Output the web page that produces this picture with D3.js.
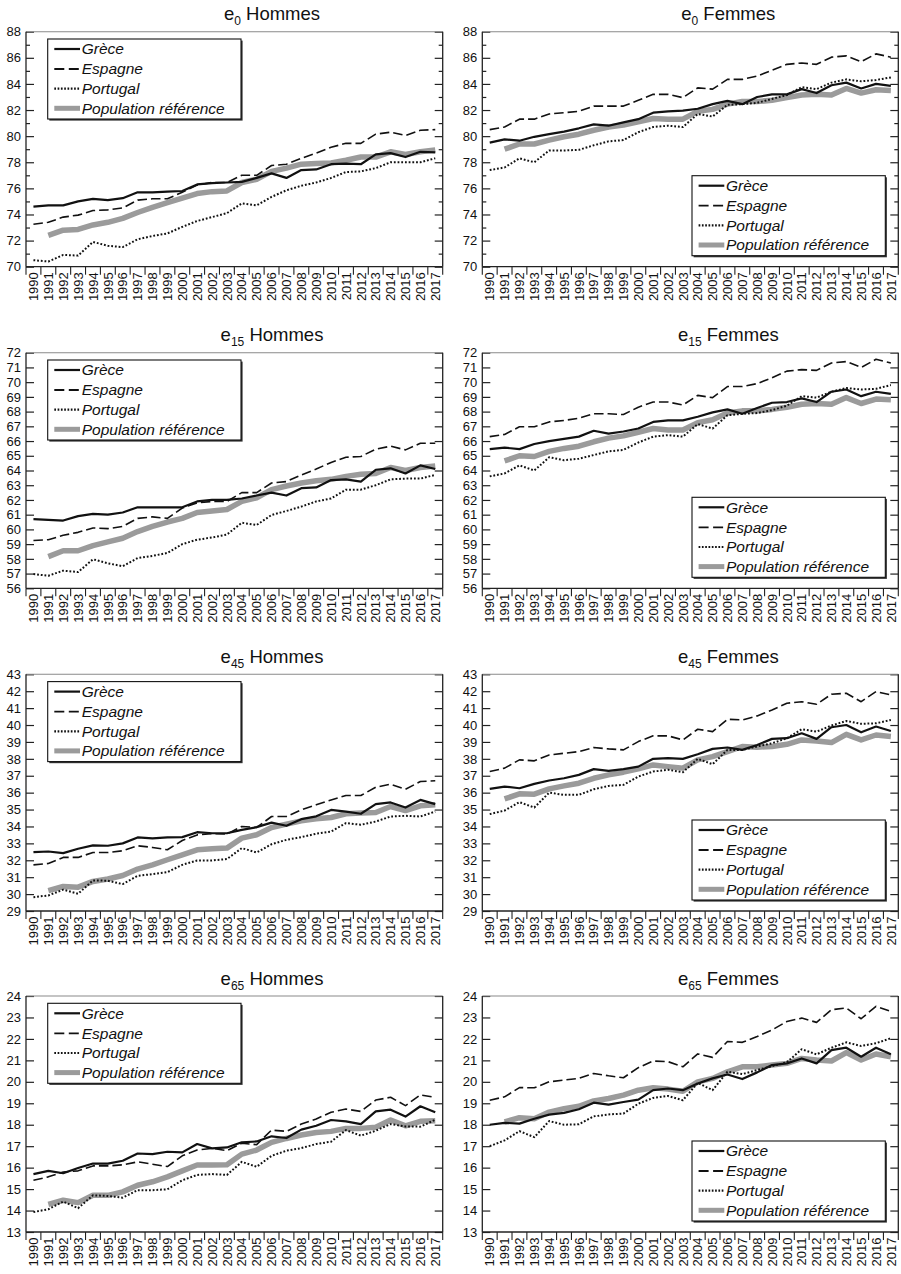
<!DOCTYPE html>
<html><head><meta charset="utf-8">
<script src="https://cdn.jsdelivr.net/npm/d3@7"></script>
<style>body{margin:0;background:#fff}svg{display:block}</style>
</head><body>
<svg id="c" width="901" height="1274"></svg>
<script>
// ---------- categories ----------
const years = ["1990","1991","1992","1993","1994","1995","1996","1997","1998","1999","2000","2001","2002","2003","2004","2005","2006","2007","2008","2009","2010","2011","2012","2013","2014","2015","2016","2017"];
const seriesNames = ["Grèce","Espagne","Portugal","Population référence"];

// ---------- tick labels ----------
const yTicks_e0  = [70,72,74,76,78,80,82,84,86,88];
const yMinor_e0  = [70,71,72,73,74,75,76,77,78,79,80,81,82,83,84,85,86,87,88];
const yTicks_e15 = [56,57,58,59,60,61,62,63,64,65,66,67,68,69,70,71,72];
const yTicks_e45 = [29,30,31,32,33,34,35,36,37,38,39,40,41,42,43];
const yTicks_e65 = [13,14,15,16,17,18,19,20,21,22,23,24];

// ---------- e0 Hommes ----------
const e0H_grece    = [74.6,74.7,74.7,75.0,75.2,75.1,75.25,75.7,75.7,75.75,75.8,76.3,76.4,76.45,76.5,76.8,77.15,76.8,77.4,77.45,77.85,77.9,77.85,78.6,78.7,78.4,78.8,78.75];
const e0H_espagne  = [73.25,73.4,73.8,73.95,74.3,74.35,74.5,75.1,75.2,75.2,75.7,76.25,76.45,76.45,77.0,77.0,77.75,77.85,78.3,78.7,79.15,79.45,79.45,80.15,80.3,80.05,80.45,80.5];
const e0H_portugal = [70.5,70.4,70.9,70.85,71.9,71.6,71.5,72.1,72.35,72.55,73.05,73.5,73.8,74.1,74.85,74.7,75.35,75.85,76.2,76.45,76.8,77.25,77.3,77.55,78.0,78.0,78.0,78.3];
const e0H_ref      = [null,72.4,72.8,72.85,73.2,73.4,73.7,74.15,74.55,74.9,75.25,75.6,75.75,75.8,76.45,76.7,77.3,77.55,77.85,77.9,77.95,78.15,78.4,78.4,78.8,78.6,78.8,78.95];

// ---------- e0 Femmes ----------
const e0F_grece    = [79.5,79.75,79.65,79.95,80.15,80.35,80.6,80.9,80.8,81.05,81.3,81.8,81.9,81.95,82.1,82.45,82.7,82.45,83.0,83.2,83.2,83.6,83.3,83.9,84.1,83.65,84.0,83.85];
const e0F_espagne  = [80.5,80.7,81.3,81.3,81.7,81.8,81.9,82.3,82.3,82.3,82.75,83.2,83.2,82.95,83.7,83.6,84.35,84.35,84.6,85.05,85.5,85.6,85.5,86.05,86.15,85.7,86.3,86.05];
const e0F_portugal = [77.4,77.6,78.3,78.0,78.9,78.9,78.95,79.3,79.6,79.7,80.3,80.7,80.8,80.7,81.7,81.5,82.4,82.45,82.55,82.85,83.15,83.75,83.6,84.1,84.35,84.2,84.3,84.5];
const e0F_ref      = [null,79.0,79.4,79.4,79.7,79.95,80.15,80.45,80.7,80.85,81.1,81.35,81.3,81.3,81.9,82.05,82.45,82.65,82.65,82.75,82.95,83.15,83.2,83.15,83.65,83.3,83.55,83.5];

// ---------- e15 Hommes ----------
const e15H_grece    = [60.7,60.65,60.6,60.9,61.05,61.0,61.15,61.5,61.5,61.5,61.5,61.9,62.0,62.0,62.1,62.3,62.5,62.3,62.8,62.85,63.35,63.4,63.25,64.05,64.15,63.8,64.35,64.1];
const e15H_espagne  = [59.25,59.3,59.6,59.8,60.1,60.05,60.2,60.75,60.85,60.75,61.45,61.8,61.9,61.9,62.5,62.5,63.15,63.25,63.7,64.1,64.55,64.9,64.95,65.45,65.65,65.4,65.85,65.85];
const e15H_portugal = [56.97,56.85,57.2,57.1,57.97,57.7,57.5,58.05,58.2,58.4,59.0,59.3,59.45,59.65,60.45,60.3,60.98,61.25,61.55,61.9,62.1,62.7,62.7,63.0,63.4,63.45,63.45,63.7];
const e15H_ref      = [null,58.15,58.55,58.55,58.9,59.15,59.4,59.85,60.2,60.5,60.75,61.15,61.25,61.35,61.9,62.15,62.7,62.95,63.15,63.3,63.4,63.6,63.75,63.8,64.2,64.0,64.2,64.3];

// ---------- e15 Femmes ----------
const e15F_grece    = [65.45,65.55,65.45,65.8,66.0,66.15,66.3,66.7,66.5,66.65,66.85,67.3,67.4,67.4,67.65,67.95,68.15,67.85,68.25,68.6,68.65,68.9,68.65,69.35,69.5,69.05,69.35,69.2];
const e15F_espagne  = [66.3,66.45,66.97,66.97,67.3,67.4,67.55,67.85,67.85,67.8,68.3,68.65,68.65,68.45,69.1,68.95,69.7,69.7,69.9,70.3,70.75,70.85,70.8,71.3,71.4,71.0,71.55,71.3];
const e15F_portugal = [63.6,63.8,64.35,64.0,64.9,64.7,64.8,65.05,65.3,65.4,65.9,66.3,66.4,66.3,67.15,66.85,67.75,67.85,67.9,68.1,68.4,69.05,68.95,69.35,69.6,69.5,69.55,69.8];
const e15F_ref      = [null,64.65,65.0,64.95,65.3,65.5,65.65,65.95,66.2,66.35,66.6,66.85,66.75,66.75,67.25,67.45,67.9,68.05,68.05,68.15,68.3,68.5,68.55,68.5,68.95,68.55,68.85,68.8];

// ---------- e45 Hommes ----------
const e45H_grece    = [32.48,32.52,32.42,32.68,32.88,32.86,33.0,33.35,33.3,33.35,33.37,33.66,33.6,33.6,33.8,33.96,34.23,34.04,34.43,34.6,34.98,34.88,34.75,35.32,35.42,35.12,35.57,35.32];
const e45H_espagne  = [31.73,31.81,32.17,32.17,32.46,32.46,32.56,32.86,32.76,32.62,33.17,33.5,33.57,33.55,34.0,33.94,34.59,34.59,34.98,35.28,35.57,35.83,35.83,36.32,36.5,36.2,36.66,36.7];
const e45H_portugal = [29.82,29.92,30.26,30.02,30.81,30.79,30.59,31.08,31.18,31.3,31.73,31.99,31.99,32.07,32.72,32.46,32.95,33.21,33.37,33.57,33.7,34.2,34.1,34.29,34.59,34.63,34.59,34.88];
const e45H_ref      = [null,30.2,30.45,30.41,30.75,30.89,31.1,31.48,31.73,32.03,32.32,32.62,32.68,32.72,33.31,33.51,33.94,34.14,34.33,34.45,34.53,34.75,34.79,34.83,35.18,34.94,35.22,35.28];

// ---------- e45 Femmes ----------
const e45F_grece    = [36.22,36.36,36.26,36.52,36.72,36.85,37.05,37.39,37.29,37.39,37.54,38.0,38.04,38.0,38.27,38.59,38.67,38.53,38.82,39.18,39.22,39.51,39.18,39.87,40.0,39.57,39.91,39.65];
const e45F_espagne  = [37.25,37.45,37.94,37.88,38.23,38.33,38.43,38.67,38.59,38.53,39.02,39.36,39.36,39.12,39.75,39.61,40.34,40.3,40.54,40.89,41.29,41.38,41.23,41.82,41.88,41.38,41.98,41.78];
const e45F_portugal = [34.73,34.94,35.44,35.12,36.0,35.87,35.87,36.2,36.4,36.46,36.95,37.25,37.35,37.21,38.0,37.68,38.53,38.53,38.73,38.92,39.22,39.75,39.61,39.97,40.24,40.07,40.1,40.3];
const e45F_ref      = [null,35.63,35.93,35.91,36.22,36.4,36.56,36.85,37.05,37.21,37.41,37.64,37.54,37.45,37.94,38.13,38.43,38.73,38.69,38.73,38.86,39.12,39.06,38.96,39.45,39.12,39.41,39.32];

// ---------- e65 Hommes ----------
const e65H_grece    = [15.7,15.85,15.74,15.98,16.19,16.19,16.32,16.66,16.63,16.74,16.71,17.1,16.9,16.94,17.18,17.22,17.46,17.38,17.77,17.95,18.22,18.16,18.03,18.62,18.7,18.38,18.86,18.58];
const e65H_espagne  = [15.41,15.57,15.8,15.85,16.08,16.08,16.13,16.27,16.16,16.05,16.55,16.82,16.9,16.79,17.14,17.07,17.75,17.69,18.03,18.27,18.58,18.73,18.62,19.15,19.28,18.89,19.39,19.28];
const e65H_portugal = [13.93,14.06,14.42,14.11,14.71,14.68,14.6,14.95,14.95,14.99,15.41,15.66,15.7,15.66,16.27,16.04,16.55,16.79,16.91,17.1,17.21,17.75,17.49,17.72,18.03,17.92,17.91,18.23];
const e65H_ref      = [null,14.29,14.48,14.37,14.71,14.71,14.87,15.18,15.34,15.57,15.85,16.12,16.12,16.13,16.63,16.82,17.18,17.36,17.52,17.64,17.69,17.83,17.83,17.88,18.22,17.95,18.16,18.19];

// ---------- e65 Femmes ----------
const e65F_grece    = [18.0,18.09,18.05,18.28,18.47,18.55,18.72,19.03,18.94,19.06,19.17,19.61,19.69,19.61,19.92,20.16,20.34,20.13,20.44,20.78,20.86,21.09,20.86,21.48,21.59,21.17,21.59,21.28];
const e65F_espagne  = [19.14,19.3,19.73,19.72,20.0,20.08,20.16,20.39,20.28,20.19,20.66,20.97,20.94,20.7,21.3,21.14,21.88,21.84,22.11,22.42,22.81,22.97,22.77,23.36,23.44,22.94,23.52,23.28];
const e65F_portugal = [17.0,17.27,17.7,17.42,18.17,18.0,18.02,18.39,18.48,18.52,18.98,19.25,19.34,19.14,19.95,19.61,20.47,20.36,20.55,20.73,20.91,21.52,21.28,21.59,21.84,21.67,21.8,22.03];
const e65F_ref      = [null,18.13,18.33,18.28,18.59,18.75,18.86,19.11,19.22,19.38,19.61,19.72,19.66,19.56,20.0,20.16,20.47,20.7,20.7,20.78,20.86,21.09,21.02,20.97,21.36,21.02,21.3,21.17];

// ---------- panel definitions ----------
const panels = [
  {sub:"0",  sex:"Hommes", row:0, col:0, ticks:yTicks_e0,  minor:yMinor_e0,  series:[e0H_grece,e0H_espagne,e0H_portugal,e0H_ref]},
  {sub:"0",  sex:"Femmes", row:0, col:1, ticks:yTicks_e0,  minor:yMinor_e0,  series:[e0F_grece,e0F_espagne,e0F_portugal,e0F_ref]},
  {sub:"15", sex:"Hommes", row:1, col:0, ticks:yTicks_e15, minor:yTicks_e15, series:[e15H_grece,e15H_espagne,e15H_portugal,e15H_ref]},
  {sub:"15", sex:"Femmes", row:1, col:1, ticks:yTicks_e15, minor:yTicks_e15, series:[e15F_grece,e15F_espagne,e15F_portugal,e15F_ref]},
  {sub:"45", sex:"Hommes", row:2, col:0, ticks:yTicks_e45, minor:yTicks_e45, series:[e45H_grece,e45H_espagne,e45H_portugal,e45H_ref]},
  {sub:"45", sex:"Femmes", row:2, col:1, ticks:yTicks_e45, minor:yTicks_e45, series:[e45F_grece,e45F_espagne,e45F_portugal,e45F_ref]},
  {sub:"65", sex:"Hommes", row:3, col:0, ticks:yTicks_e65, minor:yTicks_e65, series:[e65H_grece,e65H_espagne,e65H_portugal,e65H_ref]},
  {sub:"65", sex:"Femmes", row:3, col:1, ticks:yTicks_e65, minor:yTicks_e65, series:[e65F_grece,e65F_espagne,e65F_portugal,e65F_ref]}
];

// ---------- layout & styles ----------
const FONT = "'Liberation Sans', Arial, Helvetica, sans-serif";
const cols = [{l:26, r:442.7}, {l:482.3, r:898.3}];
const rows = [{t:31.7, b:266.7}, {t:352.7, b:588.3}, {t:674.3, b:911}, {t:996, b:1232}];
const styles = [
  {stroke:"#111", width:2.2, dash:null},
  {stroke:"#111", width:1.6, dash:"9.5,4"},
  {stroke:"#111", width:2.0, dash:"1.8,1.9"},
  {stroke:"#9b9b9b", width:5.5, dash:null}
];
const legendDash = [null, "10,4.5", "1.7,1.6", null];

const svg = d3.select("#c").style("font-family", FONT);

panels.forEach(p => {
  const {l, r} = cols[p.col];
  const {t, b} = rows[p.row];
  const dom = [d3.min(p.ticks), d3.max(p.ticks)];
  const x = d3.scaleBand().domain(years).range([l, r]);
  const y = d3.scaleLinear().domain(dom).range([b, t]);
  const g = svg.append("g");

  // --- y axis (left): labels + inward ticks
  const majorSet = new Set(p.ticks);
  const minorOnly = p.minor.filter(v => !majorSet.has(v));
  const yl = g.append("g").attr("transform", `translate(${l},0)`)
    .call(d3.axisLeft(y).tickValues(p.ticks).tickSize(-8).tickPadding(5).tickFormat(d3.format("d")));
  yl.select(".domain").remove();
  yl.selectAll("line").attr("stroke", "#222").attr("stroke-width", 1.2);
  yl.selectAll("text").attr("font-size", 13).attr("font-family", FONT).attr("fill", "#111");
  const ylm = g.append("g").attr("transform", `translate(${l},0)`)
    .call(d3.axisLeft(y).tickValues(minorOnly).tickSize(-4).tickFormat(""));
  ylm.select(".domain").remove();
  ylm.selectAll("line").attr("stroke", "#222").attr("stroke-width", 1.2);

  // --- y axis (right): inward ticks only
  const yr = g.append("g").attr("transform", `translate(${r},0)`)
    .call(d3.axisRight(y).tickValues(p.ticks).tickSize(-8).tickFormat(""));
  yr.select(".domain").remove();
  yr.selectAll("line").attr("stroke", "#222").attr("stroke-width", 1.2);
  const yrm = g.append("g").attr("transform", `translate(${r},0)`)
    .call(d3.axisRight(y).tickValues(minorOnly).tickSize(-4).tickFormat(""));
  yrm.select(".domain").remove();
  yrm.selectAll("line").attr("stroke", "#222").attr("stroke-width", 1.2);

  // --- x axis: rotated year labels at band centres
  const xa = g.append("g").attr("transform", `translate(0,${b})`)
    .call(d3.axisBottom(x).tickSize(0));
  xa.select(".domain").remove();
  xa.selectAll("text")
    .attr("transform", "rotate(-90)")
    .attr("x", -5.5).attr("y", 0).attr("dy", "0.36em")
    .attr("text-anchor", "end")
    .attr("font-size", 13).attr("font-family", FONT).attr("fill", "#111");
  // tick marks on band boundaries
  const bounds = years.map(d => x(d)).concat([x(years[years.length - 1]) + x.bandwidth()]);
  g.append("g").selectAll("line").data(bounds).join("line")
    .attr("x1", d => d).attr("x2", d => d)
    .attr("y1", b).attr("y2", b + 8)
    .attr("stroke", "#222").attr("stroke-width", 1.1);

  // --- series lines (reference first, underneath)
  const order = [3, 2, 1, 0];
  order.forEach(si => {
    const vals = p.series[si];
    const line = d3.line()
      .defined(d => d != null)
      .x((d, i) => x(years[i]) + x.bandwidth() / 2)
      .y(d => y(d));
    const st = styles[si];
    g.append("path").datum(vals)
      .attr("d", line)
      .attr("fill", "none")
      .attr("stroke", st.stroke)
      .attr("stroke-width", st.width)
      .attr("stroke-dasharray", st.dash)
      .attr("stroke-linejoin", "round");
  });

  // --- frame
  g.append("line").attr("x1", l).attr("x2", r).attr("y1", t).attr("y2", t)
    .attr("stroke", "#8a8a8a").attr("stroke-width", 1.1);
  g.append("line").attr("x1", l).attr("x2", l).attr("y1", t).attr("y2", b)
    .attr("stroke", "#222").attr("stroke-width", 1.3);
  g.append("line").attr("x1", r).attr("x2", r).attr("y1", t).attr("y2", b)
    .attr("stroke", "#222").attr("stroke-width", 1.3);
  g.append("line").attr("x1", l).attr("x2", r).attr("y1", b).attr("y2", b)
    .attr("stroke", "#222").attr("stroke-width", 1.3);

  // --- title
  const title = g.append("text")
    .attr("x", l + 246).attr("y", t - 11.5)
    .attr("text-anchor", "middle")
    .attr("font-size", 18.5).attr("fill", "#111");
  title.append("tspan").text("e");
  title.append("tspan").attr("font-size", 12).attr("dy", 5).text(p.sub);
  title.append("tspan").attr("dy", -5).text("\u00a0" + p.sex);

  // --- legend
  const LW = 193.3, LH = 80;
  const lx = p.col === 0 ? l + 21.7 : r - 13 - LW;
  const ly = p.col === 0 ? t + 7.3 : b - 11 - LH;
  const lg = g.append("g").attr("transform", `translate(${lx},${ly})`);
  lg.append("rect").attr("x", 1.6).attr("y", 1.6).attr("width", LW).attr("height", LH).attr("fill", "#333");
  lg.append("rect").attr("width", LW).attr("height", LH).attr("fill", "#fff")
    .attr("stroke", "#111").attr("stroke-width", 1.1);
  const rowY = [10, 30, 49.7, 69.3];
  seriesNames.forEach((name, si) => {
    const st = styles[si];
    lg.append("line")
      .attr("x1", 6.6).attr("x2", 32.3).attr("y1", rowY[si]).attr("y2", rowY[si])
      .attr("stroke", st.stroke)
      .attr("stroke-width", si === 3 ? 5 : (si === 1 ? 1.8 : 2.2))
      .attr("stroke-dasharray", legendDash[si]);
    lg.append("text")
      .attr("x", 34).attr("y", rowY[si]).attr("dy", "0.34em")
      .attr("font-size", 15.5).attr("font-style", "italic").attr("fill", "#111")
      .text(name);
  });
});
</script>
</body></html>
